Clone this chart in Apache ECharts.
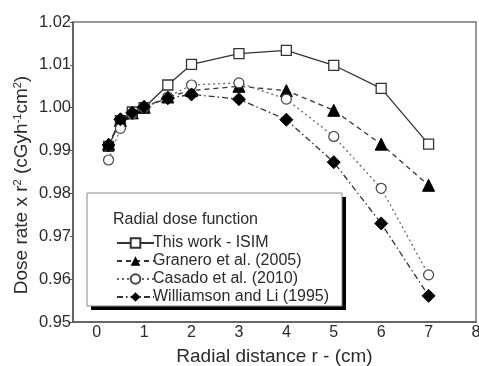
<!DOCTYPE html>
<html>
<head>
<meta charset="utf-8">
<script src="https://cdn.jsdelivr.net/npm/echarts@6/dist/echarts.min.js"></script>
<style>
  html, body { margin: 0; padding: 0; background: #fff; }
  #chart { width: 479px; height: 366px; }
</style>
</head>
<body>
<div id="chart"></div>
<script>
// radial distance (cm)
var radius = [0.25, 0.5, 0.75, 1, 1.5, 2, 3, 4, 5, 6, 7];
var thisWork = [0.9910, 0.9970, 0.9990, 1.0000, 1.0053, 1.0101, 1.0126, 1.0134, 1.0099, 1.0045, 0.9915];
var granero = [0.9915, 0.9970, 0.9988, 1.0001, 1.0025, 1.0040, 1.0050, 1.0040, 0.9994, 0.9915, 0.9819];
var casado = [0.9878, 0.9952, 0.9985, 1.0000, 1.0025, 1.0053, 1.0058, 1.0020, 0.9933, 0.9812, 0.9610];
var williamson = [0.9913, 0.9973, 0.9988, 1.0002, 1.0022, 1.0031, 1.0020, 0.9972, 0.9873, 0.9730, 0.9561];
var names = ['This work - ISIM', 'Granero et al. (2005)', 'Casado et al. (2010)', 'Williamson and Li (1995)'];

function pairs(vals) {
  return radius.map(function (r, i) { return [r, vals[i]]; });
}

var font = 'Liberation Sans, Arial, sans-serif';
var ink = '#2a2a2a';

var chart = echarts.init(document.getElementById('chart'));
var option = {
  animation: false,
  backgroundColor: '#fff',
  textStyle: { fontFamily: font, color: ink },
  grid: {
    left: 73, right: 3, top: 22, bottom: 44,
    outerBoundsMode: 'none', containLabel: false,
    show: true, borderColor: '#777', borderWidth: 1.5
  },
  xAxis: {
    type: 'value',
    min: -0.5, max: 8, interval: 0.5,
    splitLine: { show: false },
    axisTick: { show: false },
    axisLine: { onZero: false, lineStyle: { color: '#555', width: 1.5 } },
    axisLabel: {
      fontSize: 16, color: ink, margin: 3,
      formatter: function (v) { return Number.isInteger(v) ? String(v) : ''; }
    },
    name: 'Radial distance r - (cm)',
    nameLocation: 'middle', nameGap: 25,
    nameTextStyle: { fontSize: 19, color: ink, fontFamily: font }
  },
  yAxis: {
    type: 'value',
    min: 0.95, max: 1.02, interval: 0.01,
    splitLine: { show: false },
    axisLine: { show: true, onZero: false, lineStyle: { color: '#555', width: 1.5 } },
    axisTick: { show: true, length: 3, lineStyle: { color: '#555' } },
    axisLabel: {
      fontSize: 16.5, color: ink, margin: 2,
      formatter: function (v) { return v.toFixed(2); }
    }
  },
  legend: {
    orient: 'vertical',
    left: 111, top: 230,
    itemGap: 2, itemWidth: 37, itemHeight: 12,
    textStyle: { fontSize: 16, color: ink, fontFamily: font, padding: [0, 0, 0, -6] },
    data: names
  },
  graphic: [
    { type: 'rect', shape: { x: 91, y: 197, width: 255, height: 113 }, style: { fill: '#000' }, z: 0 },
    { type: 'rect', shape: { x: 87, y: 193, width: 255, height: 113 }, style: { fill: '#fff', stroke: '#888', lineWidth: 1 }, z: 1 },
    { type: 'text', left: 113, top: 212, style: { text: 'Radial dose function', fontSize: 16, fill: ink, fontFamily: font }, z: 2 },
    {
      type: 'text', x: 22, y: 185, rotation: Math.PI / 2, z: 2,
      style: {
        text: 'Dose rate x r{s|2} (cGyh{s|-1}cm{s|2})',
        fontSize: 19, fill: ink, fontFamily: font,
        align: 'center', verticalAlign: 'middle',
        rich: { s: { fontSize: 11, fill: ink, fontFamily: font, verticalAlign: 'top', padding: [0, 0, 9, 0] } }
      }
    }
  ],
  series: [
    {
      name: names[0], type: 'line', data: pairs(thisWork),
      symbol: 'rect', symbolSize: 10,
      lineStyle: { color: '#333', width: 1.3, type: 'solid' },
      itemStyle: { color: '#fff', borderColor: '#333', borderWidth: 1.3 }
    },
    {
      name: names[1], type: 'line', data: pairs(granero),
      symbol: 'triangle', symbolSize: 12,
      lineStyle: { color: '#333', width: 1.3, type: [5, 4] },
      itemStyle: { color: '#000', borderColor: '#000' }
    },
    {
      name: names[2], type: 'line', data: pairs(casado),
      symbol: 'circle', symbolSize: 10,
      lineStyle: { color: '#666', width: 1.3, type: [2, 3] },
      itemStyle: { color: '#fff', borderColor: '#444', borderWidth: 1.2 }
    },
    {
      name: names[3], type: 'line', data: pairs(williamson),
      symbol: 'diamond', symbolSize: 13,
      lineStyle: { color: '#333', width: 1.3, type: [6, 3, 1.5, 3] },
      itemStyle: { color: '#000', borderColor: '#000' }
    }
  ]
};
chart.setOption(option);
</script>
</body>
</html>
